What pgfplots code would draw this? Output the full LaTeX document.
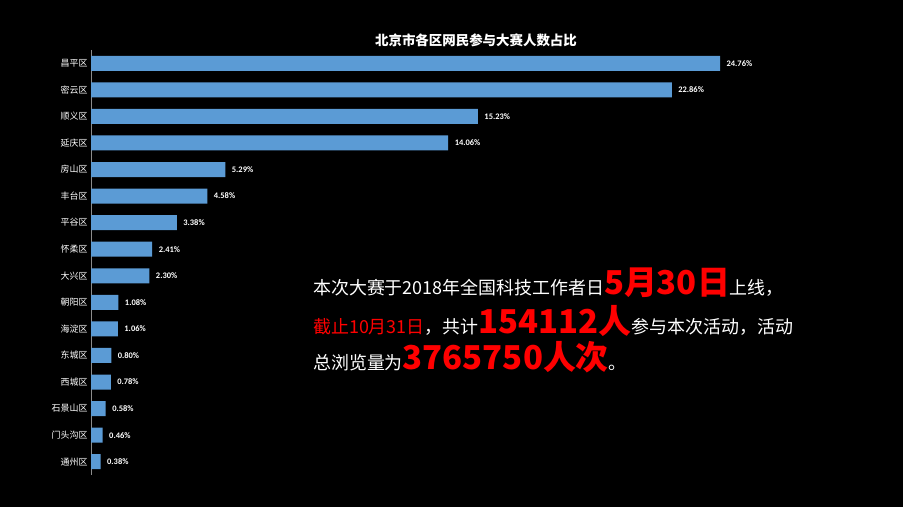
\documentclass[border=0pt]{standalone}
\usepackage{fontspec}
\setmainfont{Carlito}
\newfontfamily\cjk{Noto Sans CJK SC}
\usepackage{pgfplots}
\pgfplotsset{compat=1.18}
\definecolor{barblue}{HTML}{5B9BD5}
\definecolor{axgray}{HTML}{8C8C8C}
\definecolor{hired}{HTML}{FF0000}

\begin{document}
\begin{tikzpicture}[x=1bp,y=1bp]
\fill[black] (0,0) rectangle (903,507);
\begin{axis}[
    at={(91bp,32bp)}, anchor=south west,
    scale only axis, width=686bp, height=425bp,
    xbar, bar width=15bp, bar shift=0pt,
    xmin=0, xmax=27, ymin=-0.5, ymax=15.5, y dir=reverse,
    axis x line=none, axis y line=left,
    axis line style={-},
    y axis line style={axgray, line width=1bp},
    xtick=\empty,
    ytick={0,...,15},
    yticklabels={昌平区,密云区,顺义区,延庆区,房山区,丰台区,平谷区,怀柔区,大兴区,朝阳区,海淀区,东城区,西城区,石景山区,门头沟区,通州区},
    major tick length=0pt,
    yticklabel style={font=\cjk\fontsize{9}{10}\selectfont, text=white},
    point meta=x,
    nodes near coords={\pgfmathprintnumber[fixed,fixed zerofill,precision=2,assume math mode=true]{\pgfplotspointmeta}\%},
    nodes near coords style={font=\bfseries\fontsize{8.5}{9}\selectfont, text=white, anchor=west, xshift=3bp},
    clip=false,
]
\addplot[fill=barblue, draw=none] coordinates {
    (24.76,0) (22.86,1) (15.23,2) (14.06,3) (5.29,4) (4.58,5)
    (3.38,6) (2.41,7) (2.30,8) (1.08,9) (1.06,10) (0.80,11)
    (0.78,12) (0.58,13) (0.46,14) (0.38,15)
};
\end{axis}
\node[text=white, font=\cjk\bfseries\fontsize{13.5}{15}\selectfont] at (476,467) {北京市各区网民参与大赛人数占比};
\node[anchor=base west, inner sep=0, text=white, font=\cjk\fontsize{18}{20}\selectfont] at (313,212)
  {本次大赛于2018年全国科技工作者日{\color{hired}\bfseries\fontsize{33}{34}\selectfont 5月30日}上线，};
\node[anchor=base west, inner sep=0, text=white, font=\cjk\fontsize{18}{20}\selectfont] at (313,173)
  {{\color{hired}截止10月31日}，共计{\color{hired}\bfseries\fontsize{33}{34}\selectfont 154112人}参与本次活动，活动};
\node[anchor=base west, inner sep=0, text=white, font=\cjk\fontsize{18}{20}\selectfont] at (313,137)
  {总浏览量为{\color{hired}\bfseries\fontsize{33}{34}\selectfont 3765750人次}。};
\end{tikzpicture}
\end{document}
